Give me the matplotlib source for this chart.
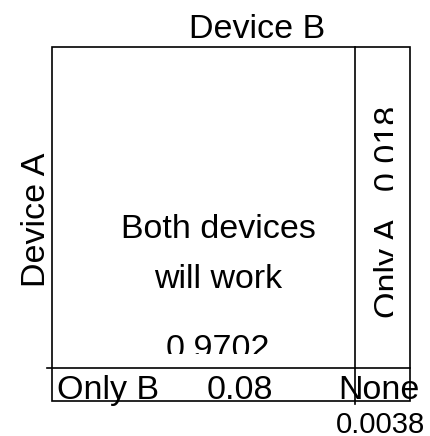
import matplotlib
matplotlib.use('Agg')
import matplotlib.pyplot as plt
from matplotlib.patches import Rectangle
from matplotlib.transforms import Bbox, TransformedBbox

# --- DATA ---
axis_labels = ['Device A', 'Device B']
outcomes = ['Both devices', 'will work', 'Only A', 'Only B', 'None']
probs = [0.9702, 0.018, 0.08, 0.0038]

# --- LAYOUT (pixel space, origin top-left) ---
W, H = 430, 436
box_l, box_r, box_t, box_b = 52, 410, 47, 401
col_split = 355
row_split = 368

plt.rcParams['font.family'] = ['Liberation Sans', 'DejaVu Sans']
FS = 24.5

fig = plt.figure(figsize=(W / 100, H / 100), dpi=100)
ax = fig.add_axes([0, 0, 1, 1])
ax.set_xlim(0, W)
ax.set_ylim(H, 0)
ax.axis('off')

line_kw = dict(color='black', linewidth=1.2)
ax.add_patch(Rectangle((box_l, box_t), box_r - box_l, box_b - box_t,
                       fill=False, edgecolor='black', linewidth=1.2))
ax.plot([col_split, col_split], [box_t, box_b + 3], **line_kw)
ax.plot([box_l - 5, box_r], [row_split, row_split], **line_kw)

base = dict(fontsize=FS, rotation_mode='anchor')


def clip_to(txt, x0, y0, x1, y1):
    # clip a text to a rectangle given in data (pixel) coords
    txt.set_clip_box(TransformedBbox(Bbox([[x0, y0], [x1, y1]]), ax.transData))
    txt.set_clip_on(True)


# axis titles
ax.text(257, 38, axis_labels[1], ha='center', va='baseline', **base)
ax.text(45, 220, axis_labels[0], ha='center', va='baseline', rotation=90,
        **base)

# both devices
ax.text(218, 238, outcomes[0], ha='center', va='baseline', **base)
ax.text(218, 288, outcomes[1], ha='center', va='baseline', **base)
t = ax.text(218, 358, str(probs[0]), ha='center', va='baseline', **base)
clip_to(t, box_l, box_t, col_split, 354)

# only A (rotated, clipped)
t = ax.text(398, 212, f'{outcomes[2]}   {probs[1]}', ha='center',
            va='baseline', rotation=90, **base)
clip_to(t, col_split, box_t, 393, row_split)

# only B
ax.text(57, 399, outcomes[3], ha='left', va='baseline', **base)
ax.text(240, 399, str(probs[2]), ha='center', va='baseline', **base)

# none
ax.text(338, 399, outcomes[4], ha='left', va='baseline', **base)
ax.text(425, 433, str(probs[3]), ha='right', va='baseline',
        fontsize=FS * 0.86)

fig.savefig('out.png', dpi=100, facecolor='white')
plt.close(fig)
